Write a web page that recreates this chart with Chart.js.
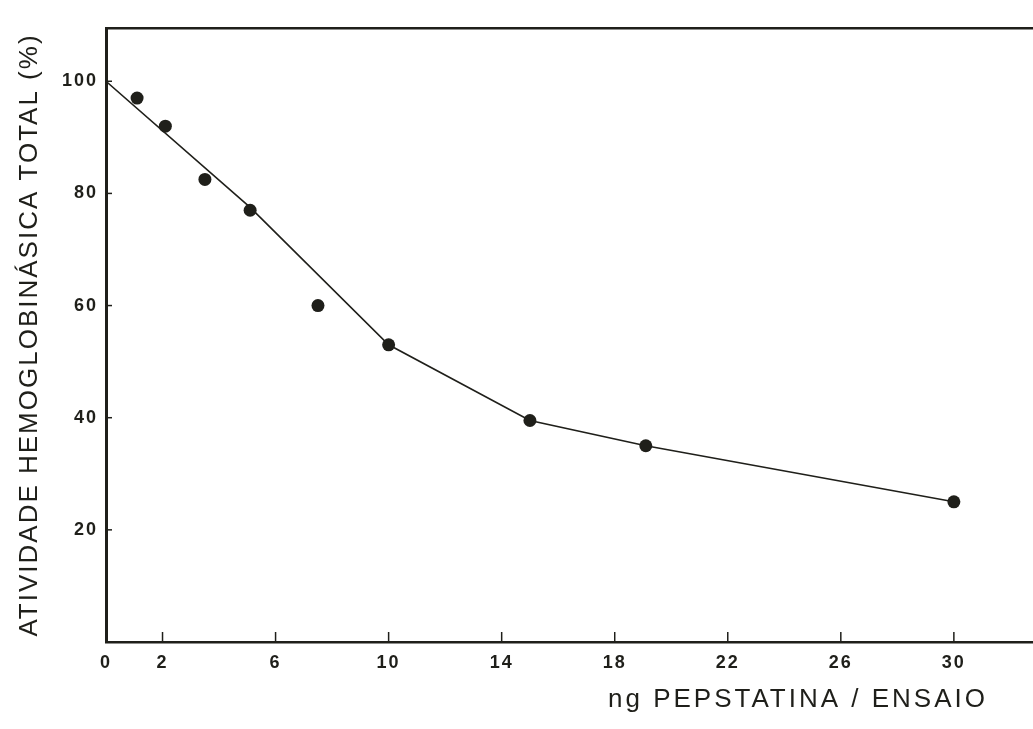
<!DOCTYPE html>
<html>
<head>
<meta charset="utf-8">
<script src="https://cdn.jsdelivr.net/npm/chart.js@4/dist/chart.umd.min.js"></script>
<style>
  html, body { margin: 0; padding: 0; background: #fff; }
  canvas { display: block; }
</style>
</head>
<body>
<canvas id="chart" width="1033" height="729"></canvas>
<script>
// measured points: ng pepstatin per assay vs total activity (%)
const dose = [1.1, 2.1, 3.5, 5.1, 7.5, 10, 15, 19.1, 30];
const activity = [97, 92, 82.5, 77, 60, 53, 39.5, 35, 25];

// fitted line drawn through the points
const lineDose = [0, 5.1, 10, 15, 19.1, 30];
const lineActivity = [100, 77.5, 53, 39.5, 35, 25];

const xTicks = [0, 2, 6, 10, 14, 18, 22, 26, 30];
const yTicks = [20, 40, 60, 80, 100];

const ink = '#1f1f1a';

const pointData = dose.map((d, i) => ({ x: d, y: activity[i] }));
const lineData = lineDose.map((d, i) => ({ x: d, y: lineActivity[i] }));

// small tick marks pointing into the plot, plus the x axis caption
const extras = {
    id: 'extras',
    beforeDraw(chart) {
        // wide letter spacing for the typewritten look of the labels
        chart.ctx.letterSpacing = '2px';
    },
    afterDraw(chart) {
        const ctx = chart.ctx;
        const x = chart.scales.x;
        const y = chart.scales.y;
        const area = chart.chartArea;
        ctx.save();
        ctx.strokeStyle = ink;
        ctx.lineWidth = 1.5;
        yTicks.forEach(v => {
            const py = y.getPixelForValue(v);
            ctx.beginPath();
            ctx.moveTo(area.left, py);
            ctx.lineTo(area.left + 6, py);
            ctx.stroke();
        });
        xTicks.forEach(v => {
            if (v === 0) return;
            const px = x.getPixelForValue(v);
            ctx.beginPath();
            ctx.moveTo(px, area.bottom);
            ctx.lineTo(px, area.bottom - 10);
            ctx.stroke();
        });
        ctx.fillStyle = ink;
        ctx.font = '26px "Liberation Sans", Arial, sans-serif';
        ctx.letterSpacing = '3px';
        ctx.textAlign = 'right';
        ctx.textBaseline = 'middle';
        ctx.fillText('ng PEPSTATINA / ENSAIO', area.right - 45, 700);
        ctx.restore();
    }
};

const ctx = document.getElementById('chart').getContext('2d');
const myChart = new Chart(ctx, {
    type: 'scatter',
    data: {
        datasets: [
            {
                label: 'pontos',
                data: pointData,
                showLine: false,
                pointRadius: 6.5,
                pointBackgroundColor: ink,
                pointBorderColor: ink,
                pointBorderWidth: 0
            },
            {
                label: 'curva',
                data: lineData,
                showLine: true,
                borderColor: ink,
                borderWidth: 1.6,
                pointRadius: 0,
                tension: 0
            }
        ]
    },
    options: {
        responsive: false,
        animation: false,
        layout: { autoPadding: false, padding: { top: 28, right: 0, left: 0, bottom: 0 } },
        plugins: {
            legend: { display: false },
            tooltip: { enabled: false }
        },
        scales: {
            x: {
                type: 'linear',
                min: 0,
                max: 32.8,
                afterBuildTicks: s => { s.ticks = xTicks.map(v => ({ value: v })); },
                afterFit: s => { s.height = 87; s.paddingLeft = 0; s.paddingRight = 0; },
                grid: { display: false, drawTicks: false },
                border: { display: true, color: ink, width: 2.5 },
                ticks: {
                    padding: 10,
                    color: ink,
                    font: { family: '"Liberation Sans", Arial, sans-serif', size: 18, weight: 'bold' }
                }
            },
            top: {
                type: 'linear',
                position: 'top',
                min: 0,
                max: 32.8,
                afterFit: s => { s.height = 0; s.paddingLeft = 0; s.paddingRight = 0; },
                grid: { display: false, drawTicks: false },
                border: { display: true, color: ink, width: 2.5 },
                ticks: { display: false }
            },
            y: {
                type: 'linear',
                min: 0,
                max: 109.5,
                afterBuildTicks: s => { s.ticks = yTicks.map(v => ({ value: v })); },
                afterFit: s => { s.width = 106; },
                grid: { display: false, drawTicks: false },
                border: { display: true, color: ink, width: 3 },
                ticks: {
                    padding: 8,
                    color: ink,
                    font: { family: '"Liberation Sans", Arial, sans-serif', size: 18, weight: 'bold' }
                },
                title: {
                    display: true,
                    text: 'ATIVIDADE HEMOGLOBINÁSICA TOTAL (%)',
                    color: ink,
                    padding: { top: 14, bottom: 0 },
                    font: { family: '"Liberation Sans", Arial, sans-serif', size: 26, weight: 'normal' }
                }
            }
        }
    },
    plugins: [extras]
});
</script>
</body>
</html>
